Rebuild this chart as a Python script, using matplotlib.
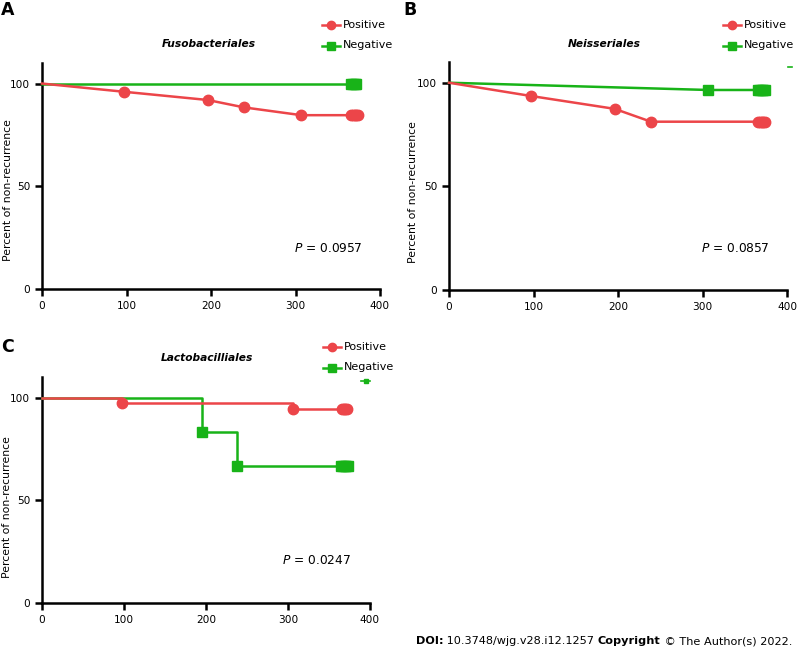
import matplotlib
matplotlib.use("Agg")
import matplotlib.pyplot as plt
from matplotlib.offsetbox import TextArea, HPacker, AnchoredOffsetbox

plt.rcParams['font.family'] = ['DejaVu Sans']

RED = '#ec4549'
GREEN = '#18b318'

# ---------------- data ----------------
# Panel A: Fusobacteriales
a_pos_x = [0, 97, 196, 239, 307, 368]
a_pos_y = [100, 96, 92, 88.4, 84.6, 84.6]
a_pos_cens = [366, 368, 370, 372, 374]
a_neg_x = [0, 368]
a_neg_y = [100, 100]
a_neg_cens = [366, 368, 370, 372]

# Panel B: Neisseriales
b_pos_x = [0, 97, 196, 239, 370]
b_pos_y = [100, 93.6, 87.4, 81.2, 81.2]
b_pos_cens = [366, 368, 370, 372, 374]
b_neg_x = [0, 307, 370]
b_neg_y = [100, 96.5, 96.5]
b_neg_cens = [366, 368, 370, 372, 374]

# Panel C: Lactobacilliales (step curves)
c_pos_x = [0, 97, 306, 370]
c_pos_y = [100, 97.4, 94.6, 94.6]
c_pos_cens = [366, 368, 370, 372]
c_neg_x = [0, 195, 238, 370]
c_neg_y = [100, 83.4, 66.7, 66.7]
c_neg_cens = [365, 367, 369, 371, 373]

p_values = ['0.0957', '0.0857', '0.0247']
titles = ['Fusobacteriales', 'Neisseriales', 'Lactobacilliales']
panel_labels = ['A', 'B', 'C']
xticks = [0, 100, 200, 300, 400]
yticks = [0, 50, 100]

W, H = 798, 650
fig = plt.figure(figsize=(7.98, 6.5), dpi=100)

def px_ax(l, r, b, t):
    return fig.add_axes([l / W, 1 - b / H, (r - l) / W, (b - t) / H])

axA = px_ax(42, 380, 289, 63)
axB = px_ax(449, 787, 290, 62)
axC = px_ax(42, 370, 603, 377)

def style(ax, label_xy):
    ax.set_xlim(0, 400)
    ax.set_ylim(0, 110)
    ax.set_xticks(xticks)
    ax.set_yticks(yticks)
    for s in ['top', 'right']:
        ax.spines[s].set_visible(False)
    for s in ['left', 'bottom']:
        ax.spines[s].set_linewidth(1.8)
        ax.spines[s].set_color('black')
    ax.tick_params(direction='out', length=5, width=1.8, labelsize=7.6, pad=3.5)
    ax.set_ylabel('Percent of non-recurrence', fontsize=7.8)
    ax.yaxis.label.set_va('center')
    ax.yaxis.set_label_coords(*label_xy)

lw = 1.8
ms = 7.5

def plot_line(ax, x, y, cens, color, marker, step=False):
    if step:
        ax.step(x, y, where='post', color=color, lw=lw, clip_on=False, zorder=3)
    else:
        ax.plot(x, y, color=color, lw=lw, clip_on=False, zorder=3)
    ax.plot(x[1:-1], y[1:-1], ls='none', marker=marker, color=color, ms=ms, zorder=4)
    ax.plot(cens, [y[-1]] * len(cens), ls='none', marker=marker, color=color, ms=ms, zorder=4)

# Panel A
plot_line(axA, a_neg_x, a_neg_y, a_neg_cens, GREEN, 's')
plot_line(axA, a_pos_x, a_pos_y, a_pos_cens, RED, 'o')
# Panel B
plot_line(axB, b_neg_x, b_neg_y, b_neg_cens, GREEN, 's')
plot_line(axB, b_pos_x, b_pos_y, b_pos_cens, RED, 'o')
# Panel C
plot_line(axC, c_neg_x, c_neg_y, c_neg_cens, GREEN, 's', step=True)
plot_line(axC, c_pos_x, c_pos_y, c_pos_cens, RED, 'o', step=True)

style(axA, ((8 - 42) / 338, (289 - 190) / 226))
style(axB, ((413 - 449) / 338, (290 - 192) / 228))
style(axC, ((7 - 42) / 328, (603 - 507) / 226))

# P-values
for p, (x, y) in zip(p_values, [(362, 248), (769, 248), (351, 560)]):
    fig.text(x / W, 1 - y / H, r'$\it{P}$' + ' = ' + p, ha='right', va='center', fontsize=8.8)

# Titles
for (x, y), t in zip([(209, 44), (604, 44), (207, 358)], titles):
    fig.text(x / W, 1 - y / H, t, ha='center', va='center', fontsize=7.7,
             fontstyle='italic', fontweight='bold')

# Panel labels
for (x, y), t in zip([(1, 10), (403, 10), (1, 347)], panel_labels):
    fig.text(x / W, 1 - y / H, t, ha='left', va='center', fontsize=12.5, fontweight='bold')

# Legends (drawn manually in figure pixel coords)
def legend(x0, y0):
    for i, (lab, col, mk) in enumerate([('Positive', RED, 'o'), ('Negative', GREEN, 's')]):
        yy = y0 + i * 20.5
        fig.add_artist(matplotlib.lines.Line2D([x0 / W, (x0 + 18) / W], [1 - yy / H, 1 - yy / H],
                                               color=col, lw=1.8, transform=fig.transFigure))
        fig.add_artist(matplotlib.lines.Line2D([(x0 + 9) / W], [1 - yy / H], marker=mk, color=col,
                                               ms=6, transform=fig.transFigure))
        fig.text((x0 + 21) / W, 1 - yy / H, lab, ha='left', va='center', fontsize=8)

legend(322, 25)
legend(723, 25)
legend(323, 347)

# small stray marks
fig.add_artist(matplotlib.lines.Line2D([788 / W, 792 / W], [1 - 67 / H, 1 - 67 / H], color=GREEN, lw=1.2,
                                       transform=fig.transFigure))
fig.add_artist(matplotlib.lines.Line2D([361 / W, 370 / W], [1 - 381 / H, 1 - 381 / H], color=GREEN, lw=1.2,
                                       transform=fig.transFigure))
fig.add_artist(matplotlib.lines.Line2D([366 / W], [1 - 381 / H], marker='s', color=GREEN, ms=3,
                                       transform=fig.transFigure))

# Footer
fs = 8.1
parts = [TextArea('DOI:', textprops=dict(fontweight='bold', fontsize=fs)),
         TextArea(' 10.3748/wjg.v28.i12.1257 ', textprops=dict(fontsize=fs)),
         TextArea('Copyright', textprops=dict(fontweight='bold', fontsize=fs)),
         TextArea(' \u00a9 The Author(s) 2022.', textprops=dict(fontsize=fs))]
box = HPacker(children=parts, align='baseline', pad=0, sep=0)
ab = AnchoredOffsetbox(loc='lower right', child=box, pad=0, frameon=False,
                       bbox_to_anchor=(792 / W, 1 - 646 / H), bbox_transform=fig.transFigure,
                       borderpad=0)
fig.add_artist(ab)

fig.savefig('out.png', dpi=100)
